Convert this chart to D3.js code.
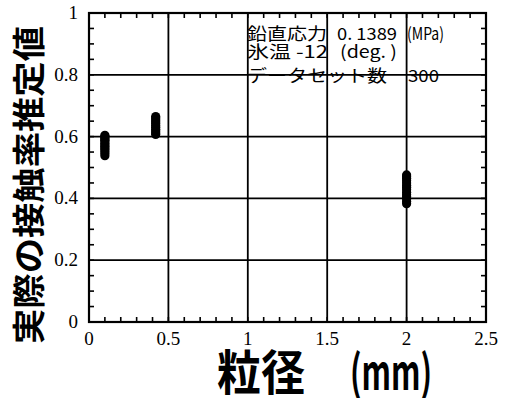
<!DOCTYPE html>
<html><head><meta charset="utf-8">
<script src="https://cdn.jsdelivr.net/npm/d3@7"></script>
<style>body{margin:0;background:#fff}svg{display:block}</style>
</head><body><svg id="c" width="506" height="398"></svg>
<script>
// Data: grain size (mm) and estimated contact ratio values
const group1X = 0.1;
const group1Y = [0.538,0.545,0.552,0.558,0.563,0.568,0.573,0.578,0.583,0.588,0.592,0.596,0.600,0.604];
const group2X = 0.42;
const group2Y = [0.607,0.612,0.618,0.624,0.630,0.636,0.642,0.648,0.654,0.660,0.665];
const group3X = 2.0;
const group3Y = [0.383,0.390,0.398,0.405,0.412,0.420,0.428,0.435,0.442,0.450,0.457,0.464,0.470,0.476];
const xTicks = [0,0.5,1,1.5,2,2.5];
const xTickLabels = ["0","0.5","1","1.5","2","2.5"];
const yTicks = [0,0.2,0.4,0.6,0.8,1];
const yTickLabels = ["0","0.2","0.4","0.6","0.8","1"];
const annotTexts = ["鉛直応力","0. 1389","(MPa)","氷温 -12","(deg. )","データセット数","300"];
const xTitleParts = ["粒径","(mm)"];
const yTitle = "実際の接触率推定値";

const svg = d3.select("#c");
const x = d3.scaleLinear().domain([0,2.5]).range([89,486]);
const y = d3.scaleLinear().domain([0,1]).range([322,13]);

// grid
const g = svg.append("g");
g.selectAll(".gx").data(xTicks.slice(1,-1)).enter().append("line")
  .attr("x1",d=>x(d)).attr("x2",d=>x(d)).attr("y1",y(0)).attr("y2",y(1))
  .attr("stroke","#000").attr("stroke-width",1.8);
g.selectAll(".gy").data(yTicks.slice(1,-1)).enter().append("line")
  .attr("y1",d=>y(d)).attr("y2",d=>y(d)).attr("x1",x(0)).attr("x2",x(2.5))
  .attr("stroke","#000").attr("stroke-width",1.8);

// axes with inward minor/major ticks
const xMinor = d3.range(0,2.5001,0.1);
const yMinor = d3.range(0,1.0001,0.05);
const tk = svg.append("g").attr("stroke","#000").attr("stroke-width",1.6);
xMinor.forEach(v=>{
  tk.append("line").attr("x1",x(v)).attr("x2",x(v)).attr("y1",y(0)).attr("y2",y(0)-5);
  tk.append("line").attr("x1",x(v)).attr("x2",x(v)).attr("y1",y(1)).attr("y2",y(1)+5);
});
yMinor.forEach(v=>{
  tk.append("line").attr("y1",y(v)).attr("y2",y(v)).attr("x1",x(0)).attr("x2",x(0)+5);
  tk.append("line").attr("y1",y(v)).attr("y2",y(v)).attr("x1",x(2.5)).attr("x2",x(2.5)-5);
});
svg.append("rect").attr("x",x(0)).attr("y",y(1)).attr("width",x(2.5)-x(0)).attr("height",y(0)-y(1))
  .attr("fill","none").attr("stroke","#000").attr("stroke-width",2.2);

// tick labels
svg.selectAll(".xl").data(xTicks).enter().append("text")
  .attr("x",d=>x(d)).attr("y",345).attr("text-anchor","middle")
  .attr("font-family","Liberation Serif").attr("font-size",19)
  .text((d,i)=>xTickLabels[i]);
svg.selectAll(".yl").data(yTicks).enter().append("text")
  .attr("x",78).attr("y",d=>y(d)+6).attr("text-anchor","end")
  .attr("font-family","Liberation Serif").attr("font-size",19)
  .text((d,i)=>yTickLabels[i]);

// data points
const pts = [].concat(
  group1Y.map(v=>[group1X,v]),
  group2Y.map(v=>[group2X,v]),
  group3Y.map(v=>[group3X,v]));
svg.selectAll(".p").data(pts).enter().append("circle")
  .attr("cx",d=>x(d[0])).attr("cy",d=>y(d[1])).attr("r",4.6).attr("fill","#000");

// annotation (layout: x, baseline y, width)
const annLayout = [[247,40,80],[337,40,60],[407,40,37],[247,58,81],[340,58,57],[247,82,140],[408,82,31]];
const ann = svg.append("g").attr("font-family","Noto Sans CJK JP").attr("font-size",17).attr("fill","#000");
annotTexts.forEach((t,i)=>{
  const L = annLayout[i];
  ann.append("text").attr("x",L[0]).attr("y",L[1])
    .attr("textLength",L[2]).attr("lengthAdjust","spacingAndGlyphs").text(t);
});

// axis titles
svg.append("text").attr("transform","translate(41,185) rotate(-90)")
  .attr("text-anchor","middle").attr("font-family","Noto Sans CJK JP").attr("font-weight","bold")
  .attr("font-size",33).attr("textLength",318).attr("lengthAdjust","spacingAndGlyphs")
  .text(yTitle);
const xtLayout = [[217,88],[350,82]];
xTitleParts.forEach((t,i)=>{
  svg.append("text").attr("x",xtLayout[i][0]).attr("y",390)
    .attr("font-family","Noto Sans CJK JP").attr("font-weight","bold")
    .attr("font-size",48).attr("textLength",xtLayout[i][1]).attr("lengthAdjust","spacingAndGlyphs")
    .text(t);
});
</script></body></html>
